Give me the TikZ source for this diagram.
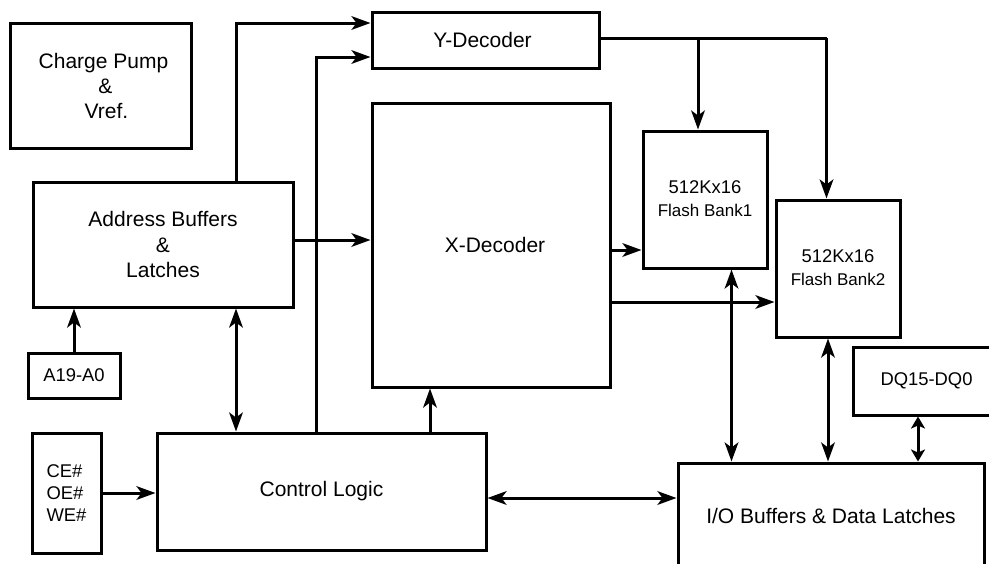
\documentclass[tikz,border=0pt]{standalone}
\usepackage{fontspec}
\setmainfont{Liberation Sans}
\usetikzlibrary{arrows.meta}
\tikzset{
  box/.style={draw, line width=1.5pt, inner sep=0pt, align=center, font=\fontsize{10.5}{12.5}\selectfont},
  conn/.style={line width=1.5pt},
  arr/.style={conn, -{Stealth[length=9.5pt,width=6.8pt,inset=2.5pt]}},
  darr/.style={conn, {Stealth[length=9.5pt,width=6.8pt,inset=2.5pt]}-{Stealth[length=9.5pt,width=6.8pt,inset=2.5pt]}},
  sdarr/.style={conn, {Stealth[length=6pt,width=7pt,inset=1.5pt]}-{Stealth[length=6pt,width=7pt,inset=1.5pt]}},
  small/.style={font=\fontsize{9.2}{11.2}\selectfont},
}
\begin{document}
\begin{tikzpicture}[x=0.5pt,y=-0.5pt]
\useasboundingbox (0,0) rectangle (989,563);
\clip (0,0) rectangle (989,563);
% nodes
\node[box, minimum width=90.5pt, minimum height=62.5pt] (cp) at (100.5,85.5) {\hspace*{3pt}Charge Pump\\\hspace*{5pt}\&\\\hspace*{6pt}Vref.};
\node[box, minimum width=130pt, minimum height=62.5pt, font=\fontsize{10.5}{12.7}\selectfont] (addr) at (163,244.5) {Address Buffers\\\&\\Latches};
\node[box, minimum width=113.5pt, minimum height=28pt] (ydec) at (485.5,40) {\raisebox{-0.5pt}{Y-Decoder}\hspace*{3pt}};
\node[box, minimum width=119pt, minimum height=142pt] (xdec) at (491,245) {\hspace*{4pt}\raisebox{-2.5pt}{X-Decoder}};
\node[box, minimum width=62pt, minimum height=68.5pt] (b1) at (705,199.5) {\raisebox{5pt}{\begin{tabular}{@{}c@{}}\fontsize{9.2}{11}\selectfont 512Kx16\\[-1pt]\fontsize{8.5}{10}\selectfont Flash Bank1\end{tabular}}};
\node[box, minimum width=62pt, minimum height=68.5pt] (b2) at (838,268.5) {\raisebox{1pt}{\begin{tabular}{@{}c@{}}\fontsize{9.2}{11}\selectfont 512Kx16\\[-1pt]\fontsize{8.5}{10}\selectfont Flash Bank2\end{tabular}}};
\node[box, small, minimum width=73.5pt, minimum height=34pt] (dq) at (926.5,381) {DQ15-DQ0};
\node[box, minimum width=153pt, minimum height=53pt] (io) at (831,516) {I/O Buffers \& Data Latches};
\node[box, small, minimum width=46pt, minimum height=22.5pt] (a19) at (74,375.5) {A19-A0};
\node[box, small, minimum width=34.5pt, minimum height=60pt, align=left] (ce) at (66.5,493) {CE\#\\OE\#\\WE\#};
\node[box, minimum width=164.5pt, minimum height=58.5pt] (ctl) at (321.5,491.5) {Control Logic};
% route coordinates
\coordinate (r1) at (236,23);
\coordinate (r2) at (316,57);
\coordinate (r3) at (0,240);
\coordinate (r4) at (826.5,38);
\coordinate (r5) at (698,38);
\coordinate (r6) at (0,250);
\coordinate (r7) at (0,302);
\coordinate (r8) at (731.5,0);
\coordinate (r9) at (828,0);
\coordinate (r10) at (918,0);
\coordinate (r11) at (430,0);
\coordinate (r12) at (0,493);
\coordinate (r13) at (0,498);
% connectors
\draw[arr] (addr.north -| r1) |- (ydec.west |- r1);
\draw[arr] (ctl.north -| r2) |- (ydec.west |- r2);
\draw[arr] (addr.east |- r3) -- (xdec.west |- r3);
\draw[conn] (ydec.east |- r4) -- (r4);
\draw[arr] (r4) -- (b2.north -| r4);
\draw[arr] (r5) -- (b1.north -| r5);
\draw[arr] (xdec.east |- r6) -- (b1.west |- r6);
\draw[arr] (xdec.east |- r7) -- (b2.west |- r7);
\draw[darr] (b1.south -| r8) -- (io.north -| r8);
\draw[darr] (b2.south -| r9) -- (io.north -| r9);
\draw[sdarr] (dq.south -| r10) -- (io.north -| r10);
\draw[arr] (a19.north) -- (addr.south -| a19.north);
\draw[darr] (addr.south -| r1) -- (ctl.north -| r1);
\draw[arr] (ce.east |- r12) -- (ctl.west |- r12);
\draw[arr] (ctl.north -| r11) -- (xdec.south -| r11);
\draw[darr] (ctl.east |- r13) -- (io.west |- r13);
\end{tikzpicture}
\end{document}
